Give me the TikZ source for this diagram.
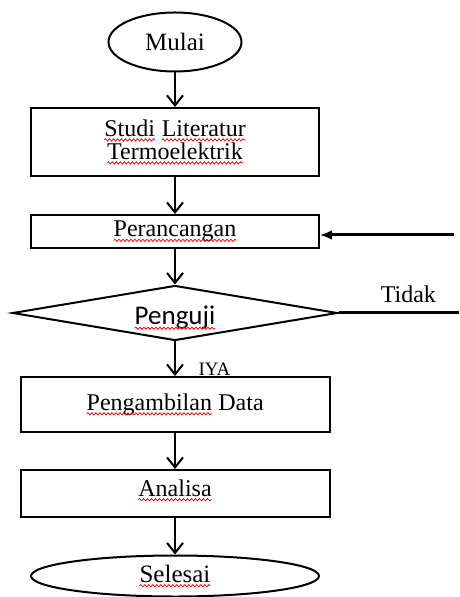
\documentclass[tikz,border=0pt]{standalone}
\usepackage{fontspec}
\setmainfont{Liberation Serif}
\newfontfamily\calibri{Carlito}
\usetikzlibrary{arrows.meta,shapes.geometric,decorations.pathmorphing}
\newcommand{\typo}[1]{\tikz[baseline=(w.base)]{\node[rectangle, draw=none, minimum size=0pt, inner sep=0pt, outer sep=0pt] (w) {#1};
	\draw[red, line width=0.4pt, decorate, decoration={snake, amplitude=0.55pt, segment length=2pt}] ([yshift=-1.8pt]w.base west) -- ([yshift=-1.8pt]w.base east);}}

\begin{document}
\begin{tikzpicture}[x=0.5pt,y=-0.5pt,>={Straight Barb[length=5pt,width=8pt]},
		box/.style={draw, line width=1pt, minimum width=144pt, inner sep=0pt, align=center, font=\fontsize{12}{11.5}\selectfont},
		term/.style={draw, ellipse, line width=1pt, inner sep=0pt, font=\fontsize{12.5}{14}\selectfont},
		flow/.style={->, line width=1pt}]
				\useasboundingbox (0,0) rectangle (459,597);
				\node[term, minimum width=66.5pt, minimum height=29.5pt] (mulai) at (175,42) {Mulai};
				\node[box, minimum height=34pt] (studi) at (175,142) {\typo{Studi} \typo{Literatur}\\\typo{Termoelektrik}};
				\node[box, minimum height=16.5pt] (rancang) at (175,231.5) {\typo{Perancangan}};
				\node[draw, diamond, line width=1pt, inner sep=0pt, aspect=5.9, minimum width=162.5pt, minimum height=27.5pt, font=\calibri\fontsize{13.5}{14}\selectfont] (uji) at (175,313) {\raisebox{-5.8pt}[0pt][0pt]{\typo{Penguji}}};
				\node[box, minimum width=154.5pt, minimum height=27.5pt] (ambil) at (175,404.5) {\typo{Pengambilan} Data};
				\node[box, minimum width=154.5pt, minimum height=23.5pt] (analisa) at (175,493.5) {\raisebox{-1.3pt}[0pt][0pt]{\typo{Analisa}}};
				\node[term, minimum width=144pt, minimum height=20.5pt] (selesai) at (175,576) {\typo{Selesai}};
				\coordinate (balik) at (454,235);
				\coordinate (tidak) at (459,313);
				\draw[flow] (mulai) -- (studi);
				\draw[flow] (studi) -- (rancang);
				\draw[flow] (rancang) -- (uji);
				\draw[flow] (uji) -- (ambil) node[pos=0.8, right=8pt, font=\fontsize{9.5}{10}\selectfont]{IYA};
				\draw[flow] (ambil) -- (analisa);
				\draw[flow] (analisa) -- (selesai);
				\draw[-, line width=1.5pt] (uji.east) -- (tidak) node[pos=0.58, above=1pt, font=\fontsize{12}{14}\selectfont]{Tidak};
				\draw[-{Latex[length=6pt,width=5pt]}, line width=1.5pt] (balik) -- (rancang.east |- balik);
			\end{tikzpicture}
\end{document}
